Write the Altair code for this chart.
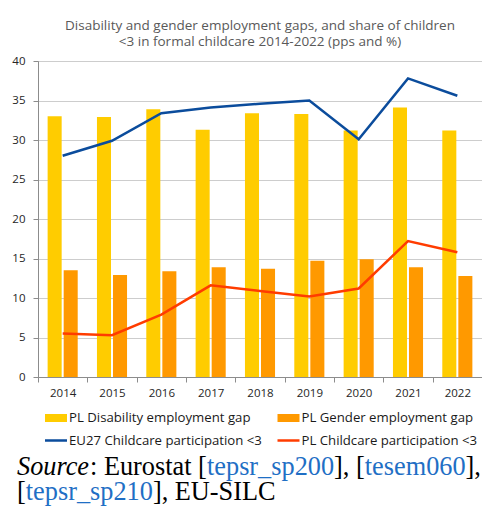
import altair as alt
import pandas as pd

years = ["2014", "2015", "2016", "2017", "2018", "2019", "2020", "2021", "2022"]
disability_gap = [33.0, 32.9, 33.9, 31.3, 33.4, 33.3, 31.2, 34.1, 31.2]
gender_gap = [13.5, 12.9, 13.4, 13.9, 13.7, 14.7, 14.9, 13.9, 12.8]
eu27_childcare = [28.0, 29.9, 33.4, 34.1, 34.6, 35.0, 30.1, 37.8, 35.6]
pl_childcare = [5.5, 5.3, 7.9, 11.6, 10.9, 10.2, 11.2, 17.2, 15.8]

bar_series = ["PL Disability employment gap", "PL Gender employment gap"]
line_series = ["EU27 Childcare participation <3", "PL Childcare participation <3"]
bar_colors = ["#FFCC00", "#FF9900"]
line_colors = ["#0B4C9C", "#FF3C00"]

title_lines = ["Disability and gender employment gaps, and share of children",
               "<3 in formal childcare 2014-2022 (pps and %)"]

bars = pd.DataFrame({
    "year": years * 2,
    "series": [bar_series[0]] * 9 + [bar_series[1]] * 9,
    "value": disability_gap + gender_gap,
})
lines = pd.DataFrame({
    "year": years * 2,
    "series": [line_series[0]] * 9 + [line_series[1]] * 9,
    "value": eu27_childcare + pl_childcare,
})

W, H = 444, 316
FONT = "Open Sans"

x_axis = alt.Axis(labelAngle=0, tickBand="extent", tickSize=5, labelPadding=5,
                  domainColor="#8c8c8c", tickColor="#8c8c8c", grid=False,
                  labelFont=FONT, labelFontSize=11.5, labelColor="#262626")
y_axis = alt.Axis(values=list(range(0, 41, 5)), tickSize=5, labelPadding=8,
                  domainColor="#8c8c8c", tickColor="#8c8c8c",
                  gridColor="#9a9a9a", gridDash=[1, 1], gridWidth=1,
                  labelFont=FONT, labelFontSize=11.5, labelColor="#262626")
x_scale = alt.Scale(paddingInner=0, paddingOuter=0)
y_scale = alt.Scale(domain=[0, 40], nice=False)

bar_layer = alt.Chart(bars).mark_bar().encode(
    x=alt.X("year:N", title=None, sort=years, scale=x_scale, axis=x_axis),
    y=alt.Y("value:Q", title=None, scale=y_scale, axis=y_axis),
    xOffset=alt.XOffset("series:N", sort=bar_series,
                        scale=alt.Scale(paddingInner=0.125, paddingOuter=0.6)),
    color=alt.Color("series:N", scale=alt.Scale(domain=bar_series, range=bar_colors), legend=None),
)

line_layer = alt.Chart(lines).mark_line(strokeWidth=2.5).encode(
    x=alt.X("year:N", title=None, sort=years, scale=x_scale, axis=x_axis),
    y=alt.Y("value:Q", title=None, scale=y_scale, axis=y_axis),
    color=alt.Color("series:N", scale=alt.Scale(domain=line_series, range=line_colors), legend=None),
)

one = pd.DataFrame({"a": [0]})
layers = [bar_layer, line_layer]

# manual legend (2 x 2)
leg_x = [7, 239.5]
leg_y = [357, 379.5]
LEG_FS = 13.2
for i in range(2):
    layers.append(alt.Chart(one).mark_rect(color=bar_colors[i]).encode(
        x=alt.value(leg_x[i]), x2=alt.value(leg_x[i] + 22),
        y=alt.value(leg_y[0] - 4), y2=alt.value(leg_y[0] + 4)))
    layers.append(alt.Chart(one).mark_text(align="left", baseline="middle", font=FONT,
                                            fontSize=LEG_FS, color="#1a1a1a").encode(
        x=alt.value(leg_x[i] + 24), y=alt.value(leg_y[0]), text=alt.value(bar_series[i])))
    layers.append(alt.Chart(one).mark_rule(color=line_colors[i], strokeWidth=2.5).encode(
        x=alt.value(leg_x[i]), x2=alt.value(leg_x[i] + 22), y=alt.value(leg_y[1])))
    layers.append(alt.Chart(one).mark_text(align="left", baseline="middle", font=FONT,
                                            fontSize=LEG_FS, color="#1a1a1a").encode(
        x=alt.value(leg_x[i] + 24), y=alt.value(leg_y[1]), text=alt.value(line_series[i])))

# source note
BLACK, BLUE = "#000000", "#1F6FC5"
source_segments = [
    # (text, x, line, color, italic)
    ("Source", -21, 0, BLACK, True),
    (": Eurostat [", 52.0, 0, BLACK, False),
    ("tepsr_sp200", 169.0, 0, BLUE, False),
    ("], [", 296.1, 0, BLACK, False),
    ("tesem060", 326.8, 0, BLUE, False),
    ("],", 427.6, 0, BLACK, False),
    ("[", -21, 1, BLACK, False),
    ("tepsr_sp210", -12.2, 1, BLUE, False),
    ("], EU-SILC", 114.9, 1, BLACK, False),
]
src_y = [414, 439]
for txt, xx, ln, col, ital in source_segments:
    layers.append(alt.Chart(one).mark_text(
        align="left", baseline="alphabetic", font="Liberation Serif", fontSize=26.3,
        color=col, fontStyle="italic" if ital else "normal").encode(
        x=alt.value(xx), y=alt.value(src_y[ln]), text=alt.value(txt)))

chart = alt.layer(*layers).resolve_scale(color="independent").properties(
    width=W, height=H,
    title=alt.TitleParams(title_lines, font=FONT, fontSize=13.5, fontWeight="normal",
                          color="#595959", anchor="middle", offset=7, lineHeight=16),
    autosize=alt.AutoSizeParams(type="none"),
    padding={"left": 30, "top": 53, "right": 0, "bottom": 133},
).configure_view(stroke=None)

chart.save("out.html", embed_options={"renderer": "svg", "actions": False})
